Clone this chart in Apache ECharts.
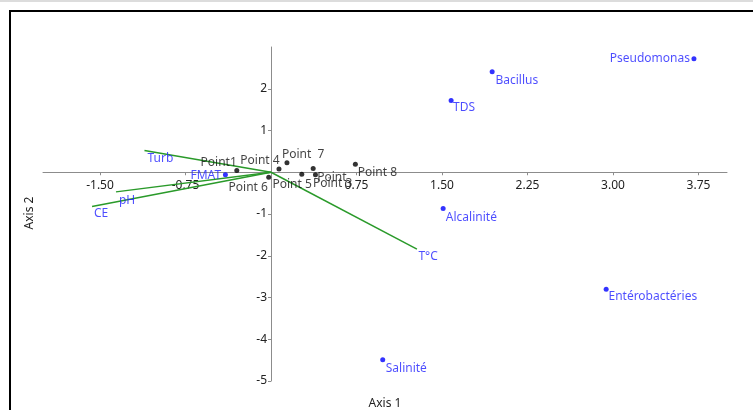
<!DOCTYPE html>
<html>
<head>
<meta charset="utf-8">
<script src="https://cdn.jsdelivr.net/npm/echarts@6/dist/echarts.min.js"></script>
<style>
  html, body { margin: 0; padding: 0; background: #fff; }
  #chart { width: 753px; height: 410px; }
</style>
</head>
<body>
<div id="chart"></div>
<script>
// Sample scores (black)
const siteNames = ['Point1', 'Point', 'Point 3', 'Point 4', 'Point 5', 'Point 6', 'Point  7', 'Point 8'];
const siteAxis1 = [-0.30, 0.37, 0.39, 0.07, 0.27, -0.02, 0.14, 0.74];
const siteAxis2 = [0.04, 0.09, -0.06, 0.08, -0.05, -0.12, 0.23, 0.19];

// Variable scores plotted as points (blue)
const varNames = ['Pseudomonas', 'Bacillus', 'TDS', 'Alcalinité', 'Entérobactéries', 'Salinité', 'FMAT'];
const varAxis1 = [3.71, 1.94, 1.58, 1.51, 2.94, 0.98, -0.40];
const varAxis2 = [2.72, 2.41, 1.72, -0.87, -2.80, -4.49, -0.06];

// Variables drawn as vectors from the origin (green)
const vecNames = ['Turb', 'pH', 'CE', 'T°C'];
const vecAxis1 = [-1.11, -1.36, -1.57, 1.28];
const vecAxis2 = [0.52, -0.47, -0.82, -1.84];

// Axis ranges and tick labels
const xRange = [-2, 4];
const yRange = [-5, 3];
const xTicks = [-1.5, -0.75, 0.75, 1.5, 2.25, 3, 3.75];
const yTicks = [-5, -4, -3, -2, -1, 1, 2];

// Label placement: [text align, dx, dy] relative to the marker centre
const siteLabelPlace = [
  ['right', 0, -8], ['left', 4, 9], ['left', -2.5, 9], ['right', 0.7, -8],
  ['center', -9.7, 10], ['right', -0.8, 10], ['left', -5, -8], ['left', 2.3, 8]
];
const varLabelPlace = [
  ['right', -4, 0], ['left', 3.3, 9], ['left', 2, 7], ['left', 2.7, 8.7],
  ['left', 2.3, 7.4], ['left', 3, 9], ['right', -4.3, 0.7]
];
const vecLabelPlace = [
  ['left', 3, 8], ['left', 3, 9], ['left', 2, 7], ['left', 1.5, 8]
];

const FONT = 'Noto Sans';
const BLUE = '#1f1fff';
const GREEN = '#2a9a2a';

// Plot area
const GRID = { left: 43, right: 26, top: 47, bottom: 29 };
const plotW = 753 - GRID.left - GRID.right;
const plotH = 410 - GRID.top - GRID.bottom;
// Shift each axis inward so that it crosses the other at zero
const xAxisShift = -plotH * (0 - yRange[0]) / (yRange[1] - yRange[0]);
const yAxisShift = -plotW * (0 - xRange[0]) / (xRange[1] - xRange[0]);

function labelled(xs, ys, names, places, color) {
  return xs.map((x, i) => ({
    value: [x, ys[i]],
    name: names[i],
    label: {
      show: true,
      formatter: names[i],
      position: 'inside',
      align: places[i][0],
      verticalAlign: 'middle',
      offset: [places[i][1], places[i][2]],
      color: color,
      fontFamily: FONT,
      fontSize: 12,
      textBorderWidth: 0
    }
  }));
}

const series = [];

vecNames.forEach((n, i) => {
  series.push({
    type: 'line',
    data: [[0, 0], [vecAxis1[i], vecAxis2[i]]],
    symbol: 'none',
    silent: true,
    lineStyle: { color: GREEN, width: 1.5 },
    z: 2
  });
});

series.push({
  type: 'scatter',
  symbolSize: 0,
  itemStyle: { color: 'rgba(0,0,0,0)' },
  data: labelled(vecAxis1, vecAxis2, vecNames, vecLabelPlace, BLUE),
  z: 3
});

series.push({
  type: 'scatter',
  symbolSize: 5,
  itemStyle: { color: '#0000ff' },
  data: labelled(varAxis1, varAxis2, varNames, varLabelPlace, BLUE),
  z: 4
});

series.push({
  type: 'scatter',
  symbolSize: 5,
  itemStyle: { color: '#000' },
  data: labelled(siteAxis1, siteAxis2, siteNames, siteLabelPlace, '#111'),
  z: 4
});

const axisColor = '#8c8c8c';

const option = {
  animation: false,
  backgroundColor: '#fff',
  grid: Object.assign({ containLabel: false, outerBoundsMode: 'none' }, GRID),
  xAxis: {
    type: 'value',
    min: xRange[0], max: xRange[1],
    offset: xAxisShift,
    axisLine: { show: true, onZero: false, lineStyle: { color: axisColor, width: 1 } },
    axisTick: { show: true, length: 3, customValues: xTicks, lineStyle: { color: axisColor } },
    axisLabel: {
      customValues: xTicks, margin: 7,
      formatter: v => v.toFixed(2),
      color: '#222', fontFamily: FONT, fontSize: 12
    },
    splitLine: { show: false }
  },
  yAxis: {
    type: 'value',
    min: yRange[0], max: yRange[1], interval: 1,
    offset: yAxisShift,
    axisLine: { show: true, onZero: false, lineStyle: { color: axisColor, width: 1 } },
    axisTick: { show: true, length: 3, customValues: yTicks, lineStyle: { color: axisColor } },
    axisLabel: {
      customValues: yTicks, margin: 4,
      formatter: v => String(v),
      color: '#222', fontFamily: FONT, fontSize: 12
    },
    splitLine: { show: false }
  },
  graphic: [
    { type: 'rect', shape: { x: 0, y: 0, width: 753, height: 2 }, style: { fill: '#dcdcdc' }, silent: true },
    { type: 'polyline', shape: { points: [[10, 412], [10, 11], [760, 11]] },
      style: { stroke: '#000', lineWidth: 2, fill: null }, silent: true },
    { type: 'text', x: 385, y: 404,
      style: { text: 'Axis 1', fill: '#222', font: '12px "Noto Sans"', align: 'center', verticalAlign: 'middle' } },
    { type: 'text', x: 30, y: 213, rotation: Math.PI / 2,
      style: { text: 'Axis 2', fill: '#222', font: '12px "Noto Sans"', align: 'center', verticalAlign: 'middle' } }
  ],
  series: series
};

const chart = echarts.init(document.getElementById('chart'), null, { renderer: 'canvas' });
chart.setOption(option);
</script>
</body>
</html>
